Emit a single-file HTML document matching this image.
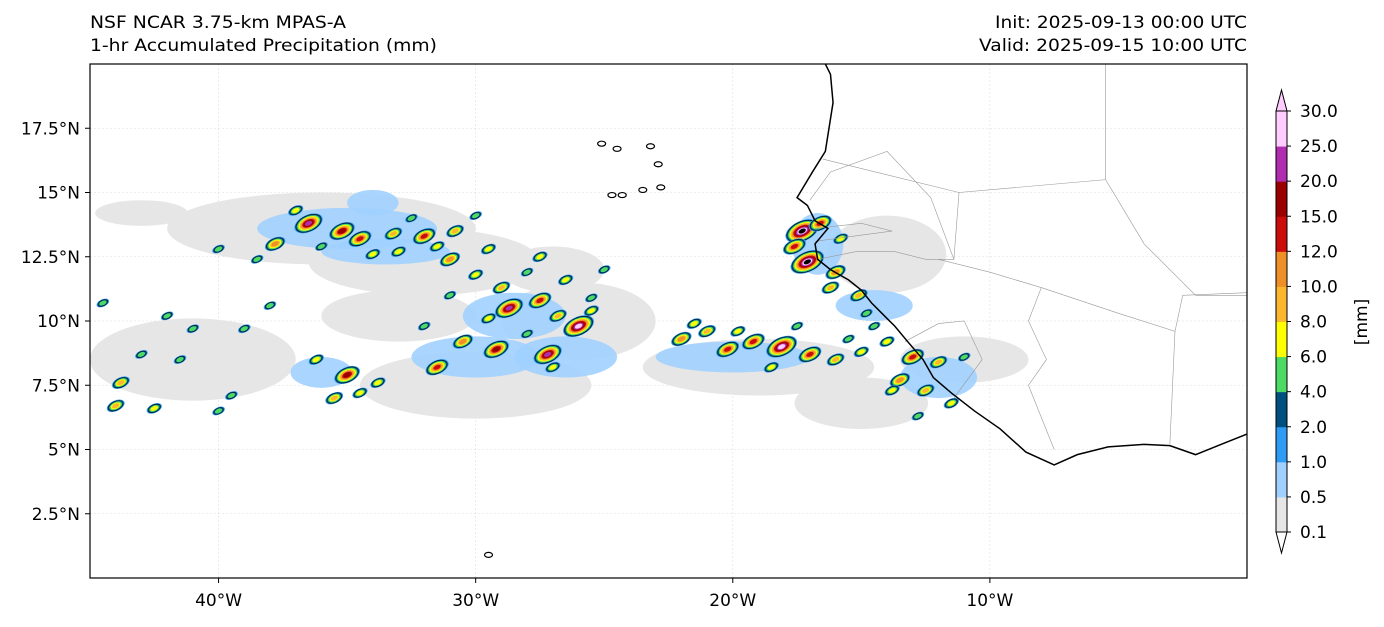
<!DOCTYPE html>
<html><head><meta charset="utf-8"><style>
body{margin:0;background:#fff;width:1384px;height:623px;overflow:hidden;font-family:"DejaVu Sans","Liberation Sans",sans-serif}
svg text{font-family:"DejaVu Sans","Liberation Sans",sans-serif}
</style></head><body>
<svg id="chart" width="1384" height="623" xmlns="http://www.w3.org/2000/svg">
<text x="90" y="28" font-size="17" textLength="256" lengthAdjust="spacingAndGlyphs">NSF NCAR 3.75-km MPAS-A</text>
<text x="90" y="51" font-size="17" textLength="347" lengthAdjust="spacingAndGlyphs">1-hr Accumulated Precipitation (mm)</text>
<text x="995" y="28" font-size="17" textLength="252" lengthAdjust="spacingAndGlyphs">Init: 2025-09-13 00:00 UTC</text>
<text x="979" y="51" font-size="17" textLength="268" lengthAdjust="spacingAndGlyphs">Valid: 2025-09-15 10:00 UTC</text>
<defs><clipPath id="mapclip"><rect x="90" y="64" width="1157" height="514"/></clipPath></defs>
<g id="map" clip-path="url(#mapclip)"></g>
<rect x="90" y="64" width="1157" height="514" fill="none" stroke="#000" stroke-width="1.2"/>
<g id="axes"></g>
<g id="cbar"></g>
<text transform="translate(1367,322) rotate(-90)" font-size="17" text-anchor="middle">[mm]</text>
</svg>
<script>
const NS="http://www.w3.org/2000/svg";
const lonMin=-45, lonMax=0, latMin=0, latMax=20;
const X0=90, X1=1247, Y0=578, Y1=64;
function xs(lon){return X0+(lon-lonMin)/(lonMax-lonMin)*(X1-X0);}
function ys(lat){return Y0-(lat-latMin)/(latMax-latMin)*(Y0-Y1);}
const levels=[0.1,0.5,1,2,4,6,8,10,12,15,20,25,30];
const levelColors=["#e6e6e6","#a0d0ff","#2e9cf5","#004f7e","#4cd964","#ffff00","#fbb72e","#ee9027","#cc0b0b","#9a0000","#b02db0","#ffccff"];
const lonTicks=[-40,-30,-20,-10];
const lonTickLabels=["40°W","30°W","20°W","10°W"];
const latTicks=[2.5,5,7.5,10,12.5,15,17.5];
const latTickLabels=["2.5°N","5°N","7.5°N","10°N","12.5°N","15°N","17.5°N"];
const grayLon=[-36,-32,-26,-41,-30,-19,-15,-11,-14,-43,-27,-33];
const grayLat=[13.6,12.3,10,8.5,7.5,8.2,6.8,8.5,12.6,14.2,12,10.2];
const grayRx=[6,4.5,3,4,4.5,4.5,2.6,2.5,2.3,1.8,2,3];
const grayRy=[1.4,1.3,1.5,1.6,1.3,1.1,1,0.9,1.5,0.5,0.9,1];
const blueLon=[-35,-33.5,-28.5,-26.5,-30,-20,-16.7,-14.5,-12,-34,-36];
const blueLat=[13.6,12.7,10.2,8.6,8.6,8.6,13,10.6,7.8,14.6,8];
const blueRx=[3.5,2.5,2,2,2.5,3,1,1.5,1.5,1,1.2];
const blueRy=[0.8,0.5,0.9,0.8,0.8,0.6,1.2,0.6,0.8,0.5,0.6];
const cellLon=[-36.5,-35.2,-34.5,-33.2,-32,-30.8,-29.5,-37.8,-38.5,-34,-31,-29,-28.7,-27.5,-26.8,-26,-25.5,-30.5,-29.2,-27.2,-31.5,-33.8,-35,-36.2,-43.8,-44,-42.5,-41.5,-22,-21,-20.2,-19.2,-18.1,-17,-16,-15,-14,-13,-12,-17.3,-17.1,-16.6,-16,-15.1,-13.5,-12.5,-11.5,-38,-40,-39,-30,-27.5,-25.5,-42,
 -37,-36,-33,-32.5,-31.5,-30,-28,-26.5,-25,-28,-27,-29.5,-31,-32,-34.5,-35.5,-43,-41,-40,-39.5,-44.5,-21.5,-19.8,-18.5,-17.5,-15.5,-14.5,-13.8,-12.8,-11,-17.6,-16.2,-15.8,-14.8];
const cellLat=[13.8,13.5,13.2,13.4,13.3,13.5,12.8,13,12.4,12.6,12.4,11.3,10.5,10.8,10.2,9.8,10.4,9.2,8.9,8.7,8.2,7.6,7.9,8.5,7.6,6.7,6.6,8.5,9.3,9.6,8.9,9.2,9,8.7,8.5,8.8,9.2,8.6,8.4,13.5,12.3,13.8,11.9,11,7.7,7.3,6.8,10.6,12.8,9.7,11.8,12.5,10.9,10.2,
 14.3,12.9,12.7,14,12.9,14.1,11.9,11.6,12,9.5,8.2,10.1,11,9.8,7.2,7,8.7,9.7,6.5,7.1,10.7,9.9,9.6,8.2,9.8,9.3,9.8,7.3,6.3,8.6,12.9,11.3,13.2,10.3];
const cellMax=[22,16,12,9,14,8,6,10,5,7,11,9,22,14,9,26,7,10,18,24,12,7,16,6,9,8,6,5,11,8,14,12,25,13,9,7,6,12,8,30,32,14,10,9,11,8,6,5,5,4,6,7,5,4,
 6,5,7,5,6,4,5,6,4,5,7,6,4,5,6,8,4,4,5,4,5,6,7,6,5,4,5,6,4,5,12,8,7,5];
function el(tag,attrs,parent){const e=document.createElementNS(NS,tag);for(const k in attrs)e.setAttribute(k,attrs[k]);parent.appendChild(e);return e;}
const map=document.getElementById("map");
const pxPerDeg=(X1-X0)/(lonMax-lonMin);
const gridG=el("g",{},map);
for(let i=0;i<lonTicks.length;i++){const g=el("line",{x1:xs(lonTicks[i]),x2:xs(lonTicks[i]),y1:Y1,y2:Y0,stroke:"#ddd","stroke-width":0.6,"stroke-dasharray":"2,2"},gridG);

}
for(let i=0;i<latTicks.length;i++){const g=el("line",{x1:X0,x2:X1,y1:ys(latTicks[i]),y2:ys(latTicks[i]),stroke:"#ddd","stroke-width":0.6,"stroke-dasharray":"2,2"},gridG);

}
for(let i=0;i<grayLon.length;i++){const e=el("ellipse",{cx:xs(grayLon[i]),cy:ys(grayLat[i]),rx:grayRx[i]*pxPerDeg,ry:grayRy[i]*pxPerDeg,fill:levelColors[0]},map);

}
for(let i=0;i<blueLon.length;i++){const e=el("ellipse",{cx:xs(blueLon[i]),cy:ys(blueLat[i]),rx:blueRx[i]*pxPerDeg,ry:blueRy[i]*pxPerDeg,fill:levelColors[1],opacity:0.9},map);

}
for(let i=0;i<cellLon.length;i++){
  const cx=xs(cellLon[i]),cy=ys(cellLat[i]);
  let n=0;while(n<levels.length-1&&cellMax[i]>=levels[n+1])n++;
  const g=el("g",{},map);
  
  
  for(let k=2;k<=n;k++){
    const s=(n-k+1);
    el("ellipse",{cx:cx,cy:cy,rx:2.5+s*1.4,ry:1.3+s*0.8,fill:levelColors[k],stroke:k==3?"#000":"none","stroke-width":0.5,transform:`rotate(-25 ${cx} ${cy})`},g);
  }
}
const borders=[[[-17,14.7],[-16.2,15.8],[-14,16.6],[-12.3,14.8],[-11.4,12.4],[-12.5,12.4],[-13.7,12.7],[-15.2,12.7],[-16.7,12.4]],
[[-16.8,13.6],[-15,13.8],[-13.8,13.5],[-16.8,13.1]],
[[-13.3,9.2],[-12,9.9],[-11,10],[-10.3,8.5],[-11.4,7]],
[[-12,12.4],[-10,11.9],[-8,11.3],[-8.5,10],[-7.8,8.5],[-8.5,7.5],[-7.5,5]],
[[-11.4,12.4],[-11.2,15],[-5.5,15.5],[-5.5,20]],
[[-5.5,15.5],[-4,13],[-2,11],[0,11]],
[[-8,11.3],[-5,10.3],[-2.8,9.6],[-3,5.2]],
[[-2.8,9.6],[-2.5,11],[0,11.1]],
[[-11.2,15],[-16.5,16.3]],[[-5.5,20],[-8.8,25]]];
for(const b of borders){const e=el("polyline",{points:b.map(p=>xs(p[0])+","+ys(p[1])).join(" "),fill:"none",stroke:"#999","stroke-width":0.6},map);

}
const coast=[[-16.5,20.2],[-16.2,19.6],[-16.1,18.5],[-16.4,16.6],[-16.9,15.8],[-17.5,14.8],[-17.1,14.5],[-16.8,13.9],[-16.3,13.6],[-16.8,13.0],[-16.7,12.4],[-16.2,12.0],[-15.5,11.6],[-15.0,11.2],[-14.6,10.7],[-14.2,10.3],[-13.7,9.8],[-13.2,9.2],[-12.6,8.5],[-12.2,7.8],[-11.5,7.2],[-10.6,6.5],[-9.6,5.8],[-8.6,4.9],[-7.5,4.4],[-6.6,4.8],[-5.4,5.1],[-4,5.2],[-3,5.15],[-2,4.8],[-1,5.2],[0,5.6]];
const c=el("polyline",{points:coast.map(p=>xs(p[0])+","+ys(p[1])).join(" "),fill:"none",stroke:"#000","stroke-width":1.5},map);


const islands=[[-25.1,16.9],[-24.5,16.7],[-23.2,16.8],[-22.9,16.1],[-22.8,15.2],[-23.5,15.1],[-24.3,14.9],[-24.7,14.9],[-29.5,0.9]];
for(const p of islands){const e=el("ellipse",{cx:xs(p[0]),cy:ys(p[1]),rx:4,ry:2.5,fill:"none",stroke:"#000","stroke-width":1.2},map);

}
const axes=document.getElementById("axes");
for(let i=0;i<lonTicks.length;i++){const x=xs(lonTicks[i]);
el("line",{x1:x,x2:x,y1:Y0,y2:Y0+5,stroke:"#000"},axes);
const t=el("text",{x:x,y:606,"font-size":17,"text-anchor":"middle"},axes);t.textContent=lonTickLabels[i];

}
for(let i=0;i<latTicks.length;i++){const y=ys(latTicks[i]);
el("line",{x1:X0-5,x2:X0,y1:y,y2:y,stroke:"#000"},axes);
const t=el("text",{x:80,y:y+6,"font-size":17,"text-anchor":"end"},axes);t.textContent=latTickLabels[i];

}
const cb=document.getElementById("cbar");
const cbx=1276,cbw=11,cbTop=111,cbBot=532;
const seg=(cbBot-cbTop)/(levels.length-1);
for(let k=0;k<levels.length-1;k++){const r=el("rect",{x:cbx,y:cbBot-(k+1)*seg,width:cbw,height:seg+0.5,fill:levelColors[k]},cb);

}
const up=el("polygon",{points:`${cbx},${cbTop} ${cbx+cbw/2},${cbTop-21} ${cbx+cbw},${cbTop}`,fill:"#ffccff",stroke:"#000","stroke-width":1},cb);


const dn=el("polygon",{points:`${cbx},${cbBot} ${cbx+cbw/2},${cbBot+21} ${cbx+cbw},${cbBot}`,fill:"#fff",stroke:"#000","stroke-width":1},cb);


el("rect",{x:cbx,y:cbTop,width:cbw,height:cbBot-cbTop,fill:"none",stroke:"#000","stroke-width":1},cb);
for(let k=0;k<levels.length;k++){const y=cbBot-k*seg;
el("line",{x1:cbx+cbw,x2:cbx+cbw+4,y1:y,y2:y,stroke:"#000"},cb);
const t=el("text",{x:1300,y:y+6,"font-size":17},cb);t.textContent=levels[k].toFixed(1);

}
</script>
</body></html>
